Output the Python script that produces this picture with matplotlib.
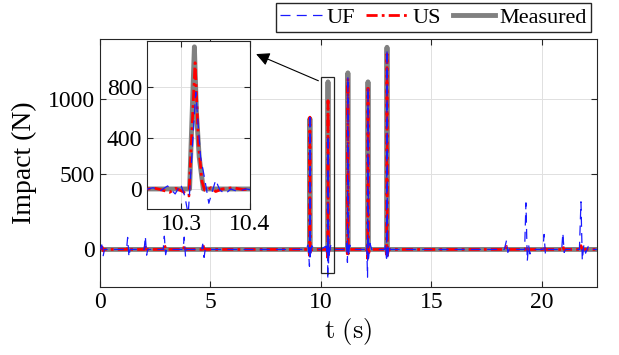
import matplotlib
matplotlib.use("Agg")
import matplotlib.pyplot as plt
from matplotlib.patches import Rectangle

plt.rcParams["font.family"] = ["Liberation Serif", "DejaVu Serif"]
plt.rcParams["mathtext.fontset"] = "cm"

# measured impact force (N) vs time (s)
t_meas = [0, 9.488, 9.500, 9.512, 10.312, 10.319, 10.322, 10.326, 10.332,
          11.208, 11.220, 11.232, 12.118, 12.130, 12.142, 12.978, 12.990, 13.002, 22.5]
f_meas = [0, 0, 870, 0, 0, 1115, 600, 250, 0,
          0, 1175, 0, 0, 1115, 0, 0, 1345, 0, 0]

# US estimate
t_us = [0, 0.10, 0.15, 0.20, 1.22, 1.27, 1.32, 2.02, 2.06, 2.12, 2.88, 2.92, 2.98,
        3.78, 3.82, 3.88, 4.62, 4.66, 4.72,
        9.44, 9.485, 9.500, 9.515, 9.56,
        10.25, 10.262, 10.272, 10.283, 10.292, 10.302, 10.311, 10.320, 10.325,
        10.330, 10.334, 10.338, 10.343, 10.35, 10.36, 10.375, 10.39, 10.40,
        11.17, 11.205, 11.220, 11.235, 11.28,
        12.08, 12.115, 12.130, 12.145, 12.20,
        12.94, 12.975, 12.990, 13.005, 13.06,
        18.36, 18.40, 18.45, 19.24, 19.28, 19.33, 20.06, 20.10, 20.15,
        20.91, 20.95, 21.00, 21.73, 21.77, 21.82, 22.5]
f_us = [0, 15, -10, 0, 0, 15, 0, 0, 28, 0, 0, 28, 0,
        0, 28, 0, 0, 28, 0,
        0, -40, 880, -30, 0,
        0, 5, -8, -26, 5, -20, -55, 990, 350,
        60, -10, -10, 10, -20, 0, 10, -5, 0,
        0, -40, 1140, -30, 0,
        0, -60, 1090, -40, 0,
        0, -50, 1300, -40, 0,
        0, 20, 0, 0, 25, 0, 0, 20, 0,
        0, 20, 0, 0, 25, 0, 0]

# UF estimate
t_uf = [0, 0.08, 0.14, 0.20, 1.20, 1.25, 1.31, 1.36, 2.00, 2.05, 2.11, 2.16,
        2.86, 2.91, 2.97, 3.02, 3.76, 3.81, 3.87, 3.92, 4.60, 4.65, 4.71, 4.76,
        9.30, 9.42, 9.48, 9.500, 9.52, 9.58, 9.70, 10.00, 10.20,
        10.251, 10.259, 10.269, 10.280, 10.291, 10.299, 10.305, 10.310, 10.321,
        10.328, 10.334, 10.340, 10.350, 10.356, 10.364, 10.372, 10.382, 10.394,
        10.40, 10.45, 10.55,
        11.10, 11.16, 11.20, 11.220, 11.24, 11.30, 11.40,
        12.00, 12.07, 12.11, 12.130, 12.15, 12.22, 12.30,
        12.88, 12.94, 12.97, 12.990, 13.01, 13.08, 13.15,
        18.30, 18.40, 18.46, 18.52, 19.22, 19.28, 19.34, 19.40, 19.46, 19.55,
        20.05, 20.10, 20.16, 20.22, 20.90, 20.95, 21.01, 21.07,
        21.70, 21.77, 21.83, 21.90, 21.98, 22.10, 22.20, 22.5]
f_uf = [0, 30, -45, 0, 0, 80, -50, 0, 0, 88, -38, 0,
        0, 88, -35, 0, 0, 82, -48, 0, 0, 35, -53, 0,
        0, 30, -112, 900, -60, 25, 0, 0, 20,
        0, 10, -16, 24, -39, 37, -55, -200, 760,
        250, 80, -112, 70, -8, -39, 0, -20, 0,
        -5, 30, 0,
        0, 40, -86, 1150, -50, 30, 0,
        0, 35, -185, 1080, -60, 40, 0,
        0, 40, -80, 1330, -70, 30, 0,
        0, 60, -20, 0, 0, 310, -77, 30, -30, 0,
        0, 100, -30, 0, 0, 110, -20, 0,
        0, 317, -73, 30, -25, 20, 0, 0]

edge = (0.15, 0.15, 0.15)


def draw(ax, lw_meas):
    ax.plot(t_meas, f_meas, color=(0.5, 0.5, 0.5), lw=lw_meas, label="Measured", zorder=2)
    ax.plot(t_us, f_us, color="red", lw=2, ls=(0, (4, 1.5, 1, 1.5)), label="US", zorder=3)
    ax.plot(t_uf, f_uf, color=(0.1, 0.1, 1.0), lw=0.9, ls=(0, (8, 5)), label="UF", zorder=4)
    ax.grid(True, color=(0.88, 0.88, 0.88), lw=0.7)
    ax.set_axisbelow(True)
    ax.tick_params(direction="in", top=True, right=True, labelsize=17,
                   color=edge, length=4)
    for s in ax.spines.values():
        s.set_color(edge)
        s.set_linewidth(0.8)


fig = plt.figure(figsize=(6.19, 3.55), dpi=100)
ax = fig.add_axes([0.1616, 0.1915, 0.803, 0.6986])
draw(ax, 3.5)
ax.set_xlim(0, 22.5)
ax.set_ylim(-250, 1400)
ax.set_xticks([0, 5, 10, 15, 20])
ax.set_yticks([0, 500, 1000])
ax.set_xlabel(r"$\mathrm{t\ (s)}$", fontsize=19, labelpad=2)
ax.set_ylabel("Impact (N)", fontsize=20, labelpad=8)

ax.add_patch(Rectangle((10.0, -160), 0.6, 1305, fill=False, ec=edge, lw=0.9, zorder=5))
ax.annotate("", xy=(6.95, 1307), xytext=(10.0, 1115),
            arrowprops=dict(arrowstyle="-|>", color="black", lw=0.8, mutation_scale=20),
            zorder=6)

h = ax.get_legend_handles_labels()[0]
fig.legend([h[2], h[1], h[0]], ["UF", "US", "Measured"], ncol=3, fontsize=16,
           loc="upper right", bbox_to_anchor=(591 / 619, 1 - 3 / 355),
           borderaxespad=0, frameon=True, fancybox=False, framealpha=1,
           edgecolor=edge, handlelength=1.9, handletextpad=0.2, columnspacing=0.5,
           borderpad=0.2)

axi = fig.add_axes([0.2375, 0.4113, 0.1664, 0.473])
draw(axi, 3.5)
axi.set_xlim(10.25, 10.4)
axi.set_ylim(-157, 1160)
axi.set_xticks([10.3, 10.4])
axi.set_yticks([0, 400, 800])

fig.savefig("out.png", dpi=100)
